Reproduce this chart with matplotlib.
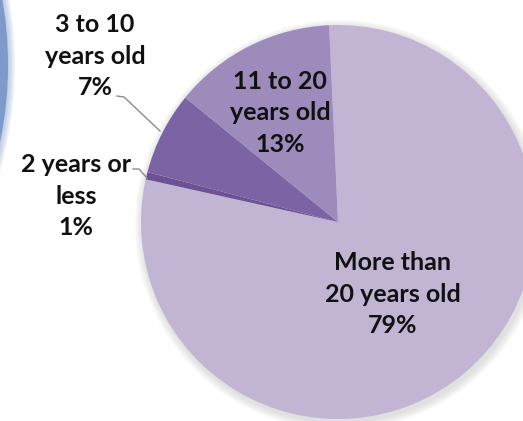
import matplotlib.pyplot as plt
from matplotlib.patches import Circle

labels = ["More than\n20 years old\n79%", "2 years or\nless\n1%", "3 to 10\nyears old\n7%", "11 to 20\nyears old\n13%"]
shares = [79.2, 0.6, 6.8, 13.4]
colors = ["#c1b5d3", "#6c5194", "#7c63a4", "#9d8bbb"]


def main():
    fig = plt.figure(figsize=(5.23, 4.21), dpi=100)
    ax = fig.add_axes([0, 0, 1, 1])

    cx, cy, r = 338, 199, 197

    # blue circle of the neighbouring chart, cut off at the left
    for i in range(5):
        ax.add_patch(Circle((-372, 356), 381 + i * 1.5, color="#7e9acb", alpha=0.12, lw=0))
    ax.add_patch(Circle((-372, 356), 380, color="#7e9acb", lw=0))

    # soft shadow round the pie
    for i in range(7):
        ax.add_patch(Circle((cx + 2, cy - 3), r + 1 + i * 1.2, color="#808080", alpha=0.035, lw=0))

    ax.pie(shares, colors=colors, startangle=92.6, counterclock=False,
           center=(cx, cy), radius=r, frame=True,
           wedgeprops=dict(linewidth=0))
    ax.set_xlim(0, 523)
    ax.set_ylim(0, 421)
    ax.set_aspect("equal")
    ax.axis("off")

    font = dict(family="Lato", weight="bold", fontsize=18, color="#111111",
                ha="center", va="center", linespacing=1.45)

    ax.text(393, 421 - 294, labels[0], **font)
    ax.text(280, 421 - 113, labels[3], **font)
    ax.text(95, 421 - 56, labels[2], **font)
    ax.text(76, 421 - 196, labels[1], **font)

    # leader lines
    ax.plot([117, 124, 160], [421 - 96, 421 - 97, 421 - 131], color="#8c8c8c", lw=1)
    ax.plot([133, 139, 147], [421 - 169, 421 - 169, 421 - 178], color="#8c8c8c", lw=1)

    fig.savefig("out.png", dpi=100, facecolor="white")


if __name__ == "__main__":
    main()
